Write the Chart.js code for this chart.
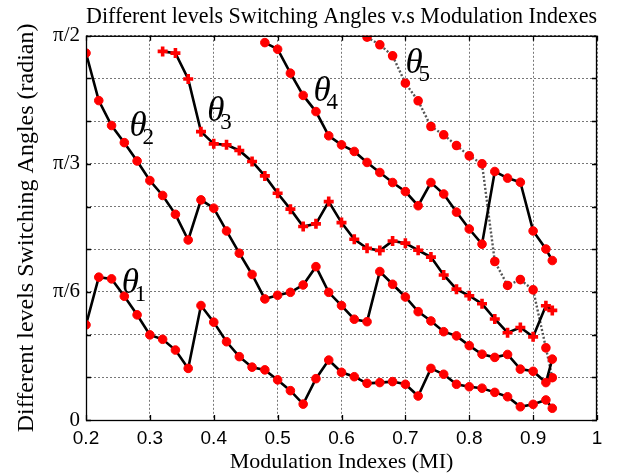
<!DOCTYPE html>
<html>
<head>
<meta charset="utf-8">
<style>
  body { margin: 0; background: #fff; }
  canvas { display: block; }
</style>
<script src="https://cdn.jsdelivr.net/npm/chart.js@4.4.0/dist/chart.umd.min.js"></script>
</head>
<body>
<canvas id="chart" width="627" height="476"></canvas>
<script>
// modulation index (x) for every sample
const mi = [0.20, 0.22, 0.24, 0.26, 0.28, 0.30, 0.32, 0.34, 0.36, 0.38,
            0.40, 0.42, 0.44, 0.46, 0.48, 0.50, 0.52, 0.54, 0.56, 0.58,
            0.60, 0.62, 0.64, 0.66, 0.68, 0.70, 0.72, 0.74, 0.76, 0.78,
            0.80, 0.82, 0.84, 0.86, 0.88, 0.90, 0.92, 0.93];

// switching angles in radian, null where the angle does not exist
const theta1 = [0.389, 0.584, 0.577, 0.506, 0.430, 0.348, 0.330, 0.286, 0.211, 0.468,
                0.400, 0.320, 0.259, 0.216, 0.205, 0.164, 0.120, 0.065, 0.169, 0.245,
                0.195, 0.177, 0.150, 0.153, 0.157, 0.146, 0.098, 0.211, 0.187, 0.146,
                0.136, 0.130, 0.113, 0.095, 0.054, 0.064, 0.082, 0.048];
const theta2 = [1.500, 1.306, 1.204, 1.134, 1.059, 0.979, 0.918, 0.841, 0.736, 0.900,
                0.866, 0.773, 0.682, 0.595, 0.495, 0.510, 0.522, 0.552, 0.627, 0.522,
                0.468, 0.412, 0.402, 0.607, 0.555, 0.503, 0.443, 0.405, 0.361, 0.344,
                0.304, 0.269, 0.256, 0.268, 0.208, 0.199, 0.153, 0.249];
const theta3 = [null, null, null, null, null, null, 1.507, 1.500, 1.394, 1.179,
                1.129, 1.125, 1.102, 1.057, 0.998, 0.927, 0.862, 0.791, 0.802, 0.893,
                0.807, 0.739, 0.702, 0.693, 0.732, 0.723, 0.694, 0.666, 0.593, 0.535,
                0.508, 0.475, 0.413, 0.357, 0.378, 0.340, 0.467, 0.448];
const theta4 = [null, null, null, null, null, null, null, null, null, null,
                null, null, null, null, 1.543, 1.516, 1.418, 1.327, 1.261, 1.162,
                1.125, 1.098, 1.053, 1.012, 0.971, 0.934, 0.876, 0.971, 0.924, 0.850,
                0.781, 0.719, 1.016, 0.989, 0.972, 0.773, 0.699, 0.652];
const theta5 = [null, null, null, null, null, null, null, null, null, null,
                null, null, null, null, null, null, null, null, null, null,
                null, null, 1.565, 1.534, 1.489, 1.377, 1.305, 1.200, 1.166, 1.122,
                1.080, 1.047, 0.648, 0.550, 0.574, 0.532, 0.295, 0.173];

// axis ticks
const xTicks = [0.2, 0.3, 0.4, 0.5, 0.6, 0.7, 0.8, 0.9, 1.0];
const xTickLabels = ['0.2', '0.3', '0.4', '0.5', '0.6', '0.7', '0.8', '0.9', '1'];
const yTicks = [0, Math.PI / 18, Math.PI / 9, Math.PI / 6, 2 * Math.PI / 9, 5 * Math.PI / 18,
                Math.PI / 3, 7 * Math.PI / 18, 4 * Math.PI / 9, Math.PI / 2];
const yTickLabels = ['0', '', '', 'π/6', '', '', 'π/3', '', '', 'π/2'];

// curve labels, placed at (MI, radian)
const curveLabels = [
  { sub: '1', x: 0.256, y: 0.520 },
  { sub: '2', x: 0.268, y: 1.162 },
  { sub: '3', x: 0.390, y: 1.222 },
  { sub: '4', x: 0.556, y: 1.305 },
  { sub: '5', x: 0.700, y: 1.419 },
];

const serif = '"Liberation Serif", "Times New Roman", serif';
const sans = '"Liberation Sans", Arial, sans-serif';

function toPoints(values) {
  return mi.map((x, i) => ({ x: x, y: values[i] })).filter(p => p.y !== null);
}

function solidSet(label, values, style) {
  return {
    label: label,
    data: toPoints(values),
    borderColor: '#000',
    borderWidth: 2.6,
    pointStyle: style,
    pointRadius: style === 'cross' ? 5 : 4.3,
    pointBorderWidth: style === 'cross' ? 3.6 : 1,
    pointBackgroundColor: '#f00',
    pointBorderColor: '#f00',
    tension: 0
  };
}

// frame, inner tick marks and theta labels
const extras = {
  id: 'extras',
  afterDraw(chart) {
    const ctx = chart.ctx;
    const a = chart.chartArea;
    const xs = chart.scales.x;
    const ys = chart.scales.y;
    ctx.save();
    ctx.strokeStyle = '#000';
    ctx.lineWidth = 1.3;
    ctx.beginPath();
    xTicks.forEach(v => {
      const px = Math.round(xs.getPixelForValue(v)) + 0.5;
      ctx.moveTo(px, a.bottom); ctx.lineTo(px, a.bottom - 5);
      ctx.moveTo(px, a.top); ctx.lineTo(px, a.top + 5);
    });
    yTicks.forEach(v => {
      const py = Math.round(ys.getPixelForValue(v)) + 0.5;
      ctx.moveTo(a.left, py); ctx.lineTo(a.left + 5, py);
      ctx.moveTo(a.right, py); ctx.lineTo(a.right - 5, py);
    });
    ctx.stroke();
    ctx.strokeRect(a.left + 0.5, a.top + 0.5, a.right - a.left - 1, a.bottom - a.top);

    ctx.fillStyle = '#000';
    ctx.textBaseline = 'alphabetic';
    ctx.textAlign = 'left';
    curveLabels.forEach(l => {
      const px = xs.getPixelForValue(l.x);
      const py = ys.getPixelForValue(l.y);
      ctx.font = 'italic 35px ' + serif;
      ctx.fillText('θ', px, py);
      ctx.font = '23px ' + serif;
      ctx.fillText(l.sub, px + 13, py + 8);
    });
    ctx.restore();
  }
};

new Chart(document.getElementById('chart'), {
  type: 'line',
  data: {
    datasets: [
      solidSet('theta1', theta1, 'circle'),
      solidSet('theta2', theta2, 'circle'),
      solidSet('theta3', theta3, 'cross'),
      solidSet('theta4', theta4, 'circle'),
      {
        label: 'theta5',
        data: toPoints(theta5),
        borderColor: '#555',
        borderWidth: 2.4,
        borderDash: [2, 2],
        pointRadius: 3.6,
        pointBackgroundColor: '#f00',
        pointBorderColor: '#f00',
        tension: 0
      }
    ]
  },
  options: {
    responsive: false,
    animation: false,
    layout: { padding: { top: 0, right: 30, bottom: 0, left: 0 } },
    plugins: {
      legend: { display: false },
      tooltip: { enabled: false },
      title: {
        display: true,
        fullSize: false,
        text: 'Different levels Switching Angles v.s Modulation Indexes',
        color: '#000',
        font: { family: serif, size: 24, weight: 'normal' },
        padding: { top: 2, bottom: 5 }
      }
    },
    scales: {
      x: {
        type: 'linear',
        min: 0.2,
        max: 1,
        afterBuildTicks: s => { s.ticks = xTicks.map(v => ({ value: v })); },
        afterFit: s => { s.height = 56; },
        grid: { color: '#777', lineWidth: 1, drawTicks: false },
        border: { display: false, dash: [2, 2] },
        ticks: {
          color: '#000',
          padding: 7,
          maxRotation: 0,
          autoSkip: false,
          font: { family: sans, size: 19 },
          callback: (v, i) => xTickLabels[i]
        },
        title: {
          display: true,
          text: 'Modulation Indexes (MI)',
          color: '#000',
          font: { family: serif, size: 22 },
          padding: { top: 0, bottom: 1 }
        }
      },
      y: {
        type: 'linear',
        min: 0,
        max: Math.PI / 2,
        afterBuildTicks: s => { s.ticks = yTicks.map(v => ({ value: v })); },
        afterFit: s => { s.width = 86; },
        grid: { color: '#777', lineWidth: 1, drawTicks: false },
        border: { display: false, dash: [2, 2] },
        ticks: {
          color: '#000',
          padding: 6,
          autoSkip: false,
          font: { family: serif, size: 21 },
          callback: (v, i) => yTickLabels[i]
        },
        title: {
          display: true,
          text: 'Different levels Switching Angles (radian)',
          color: '#000',
          font: { family: serif, size: 24 },
          padding: { top: 12, bottom: 0 }
        }
      }
    }
  },
  plugins: [extras]
});
</script>
</body>
</html>
